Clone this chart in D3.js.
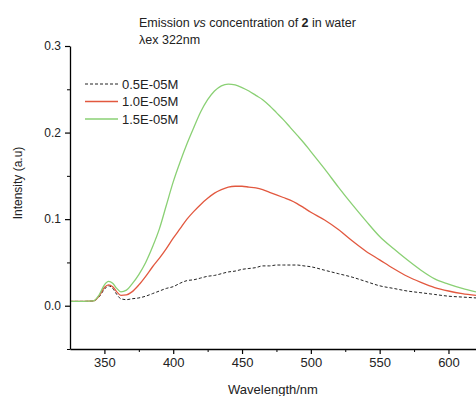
<!DOCTYPE html>
<html>
<head>
<meta charset="utf-8">
<script src="https://cdn.jsdelivr.net/npm/d3@7"></script>
<style>
  body { margin: 0; background: #fff; }
  svg { display: block; font-family: "Liberation Sans", Arial, sans-serif; }
</style>
</head>
<body>
<div id="chart"></div>
<script>
// wavelengths (nm)
const wavelengths = [325, 335, 342, 346, 350, 353, 356, 359, 362, 366, 370, 375, 380, 385, 390, 395,
  400, 405, 410, 415, 420, 425, 430, 435, 440, 445, 450, 455, 460, 465, 470, 475, 480, 485, 490, 495,
  500, 510, 520, 530, 540, 550, 560, 570, 580, 590, 600, 610, 620];

const conc05 = [0.005, 0.005, 0.0055, 0.010, 0.019, 0.023, 0.020, 0.013, 0.008, 0.007, 0.008, 0.009, 0.011, 0.014, 0.017, 0.020,
  0.022, 0.026, 0.029, 0.030, 0.032, 0.034, 0.035, 0.037, 0.039, 0.040, 0.042, 0.043, 0.044, 0.046, 0.046, 0.047, 0.047, 0.047, 0.047, 0.046,
  0.045, 0.041, 0.037, 0.033, 0.028, 0.023, 0.020, 0.017, 0.015, 0.013, 0.011, 0.010, 0.009];

const conc10 = [0.005, 0.005, 0.0055, 0.011, 0.021, 0.024, 0.022, 0.016, 0.012, 0.0125, 0.016, 0.024, 0.034, 0.045, 0.055, 0.066,
  0.078, 0.089, 0.100, 0.109, 0.117, 0.124, 0.130, 0.134, 0.137, 0.138, 0.138, 0.137, 0.136, 0.134, 0.131, 0.128, 0.125, 0.122, 0.118, 0.113,
  0.108, 0.099, 0.088, 0.075, 0.063, 0.053, 0.043, 0.034, 0.027, 0.021, 0.017, 0.014, 0.012];

const conc15 = [0.005, 0.005, 0.0055, 0.012, 0.024, 0.028, 0.026, 0.020, 0.016, 0.018, 0.025, 0.036, 0.050, 0.068, 0.089, 0.116,
  0.143, 0.166, 0.187, 0.206, 0.224, 0.238, 0.248, 0.254, 0.256, 0.255, 0.252, 0.248, 0.243, 0.238, 0.231, 0.223, 0.215, 0.206, 0.197, 0.188,
  0.178, 0.158, 0.137, 0.117, 0.098, 0.080, 0.066, 0.053, 0.041, 0.031, 0.025, 0.020, 0.016];

const seriesNames = ["0.5E-05M", "1.0E-05M", "1.5E-05M"];
const xTicks = [350, 400, 450, 500, 550, 600];
const yTicks = [0.0, 0.1, 0.2, 0.3];

const width = 476, height = 396;
const marginLeft = 70, marginRight = 0, marginTop = 46, marginBottom = 47;

const series = [
  { name: seriesNames[0], values: conc05, color: "#222", dash: "3,2", w: 1 },
  { name: seriesNames[1], values: conc10, color: "#e2583f", dash: null, w: 1.3 },
  { name: seriesNames[2], values: conc15, color: "#8ad074", dash: null, w: 1.3 }
];

const x = d3.scaleLinear().domain([325, 620]).range([marginLeft, width - marginRight]);
const y = d3.scaleLinear().domain([-0.05, 0.3]).range([height - marginBottom, marginTop]);

const svg = d3.select("#chart").append("svg")
    .attr("width", width)
    .attr("height", height)
    .attr("viewBox", [0, 0, width, height]);

svg.append("defs").append("clipPath").attr("id", "clip")
  .append("rect")
    .attr("x", marginLeft).attr("y", marginTop)
    .attr("width", width - marginLeft - marginRight)
    .attr("height", height - marginTop - marginBottom);

// curves
const line = d3.line()
    .x((d, i) => x(wavelengths[i]))
    .y(d => y(d))
    .curve(d3.curveMonotoneX);

svg.append("g")
    .attr("clip-path", "url(#clip)")
  .selectAll("path")
  .data(series)
  .join("path")
    .attr("fill", "none")
    .attr("stroke", d => d.color)
    .attr("stroke-width", d => d.w)
    .attr("stroke-dasharray", d => d.dash)
    .attr("d", d => line(d.values));

// y axis
const yAxis = svg.append("g").attr("transform", `translate(${marginLeft},0)`);
yAxis.call(d3.axisLeft(y).tickValues(yTicks).tickFormat(d3.format(".1f")).tickSize(5).tickSizeOuter(0))
  .call(g => g.select(".domain").attr("stroke-width", 1.3))
  .call(g => g.selectAll(".tick line").attr("stroke-width", 1.2))
  .call(g => g.selectAll(".tick text").attr("font-size", 12).attr("x", -9).attr("fill", "#222"));
yAxis.append("g")
  .call(d3.axisLeft(y).tickValues([-0.05, 0.05, 0.15, 0.25]).tickSize(3).tickFormat(""))
  .call(g => g.select(".domain").remove());

// x axis
const xAxis = svg.append("g").attr("transform", `translate(0,${height - marginBottom})`);
xAxis.call(d3.axisBottom(x).tickValues(xTicks).tickSize(5).tickSizeOuter(0))
  .call(g => g.select(".domain").attr("stroke-width", 1.3))
  .call(g => g.selectAll(".tick line").attr("stroke-width", 1.2))
  .call(g => g.selectAll(".tick text").attr("font-size", 13).attr("y", 9).attr("fill", "#222"));
xAxis.append("g")
  .call(d3.axisBottom(x).tickValues([375, 425, 475, 525, 575]).tickSize(3).tickFormat(""))
  .call(g => g.select(".domain").remove());

// axis titles
svg.append("text")
    .attr("transform", `translate(22,183) rotate(-90)`)
    .attr("text-anchor", "middle")
    .attr("font-size", 12)
    .attr("fill", "#222")
    .text("Intensity (a.u)");

svg.append("text")
    .attr("x", 273).attr("y", 394)
    .attr("text-anchor", "middle")
    .attr("font-size", 13)
    .attr("fill", "#222")
    .text("Wavelength/nm");

// title
const title = svg.append("text")
    .attr("x", 139).attr("y", 27)
    .attr("font-size", 12.5)
    .attr("fill", "#222");
title.append("tspan").text("Emission ");
title.append("tspan").attr("font-style", "italic").text("vs");
title.append("tspan").text(" concentration of ");
title.append("tspan").attr("font-weight", "bold").text("2");
title.append("tspan").text(" in water");

svg.append("text")
    .attr("x", 139).attr("y", 44)
    .attr("font-size", 12.5)
    .attr("fill", "#222")
    .text("λex 322nm");

// legend
const legend = svg.append("g")
  .selectAll("g")
  .data(series)
  .join("g")
    .attr("transform", (d, i) => `translate(85,${84 + i * 17.5})`);

legend.append("line")
    .attr("x1", 0).attr("x2", 33)
    .attr("stroke", d => d.color)
    .attr("stroke-width", d => d.w)
    .attr("stroke-dasharray", d => d.dash);

legend.append("text")
    .attr("x", 37).attr("y", 4.5)
    .attr("font-size", 13)
    .attr("fill", "#222")
    .text(d => d.name);
</script>
</body>
</html>
